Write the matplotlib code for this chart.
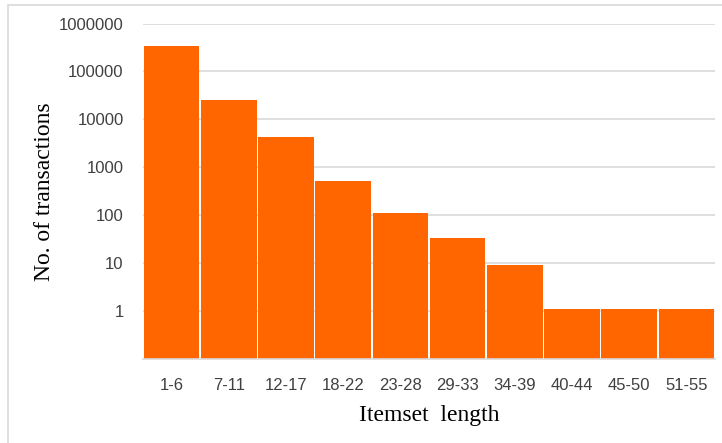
import numpy as np
import matplotlib
matplotlib.use("Agg")
import matplotlib.pyplot as plt
from matplotlib.patches import Rectangle

# itemset length groups and transaction counts
groups = ["1-6", "7-11", "12-17", "18-22", "23-28", "29-33",
          "34-39", "40-44", "45-50", "51-55"]
counts = [340000, 25000, 4300, 520, 110, 33, 9, 1, 1, 1]
yticks = [1, 10, 100, 1000, 10000, 100000, 1000000]

fig = plt.figure(figsize=(7.22, 4.43), dpi=100)
ax = fig.add_axes([143/722, 1 - 359/443, (715 - 143)/722, (359 - 23.5)/443])

x = np.arange(len(groups))
ax.bar(x, counts, width=0.97, bottom=0.1, color="#FF6600", zorder=2)

ax.set_yscale("log")
ax.set_ylim(0.1, 1e6)
ax.set_xlim(-0.5, len(groups) - 0.5)
ax.set_yticks(yticks)
ax.set_yticklabels([str(v) for v in yticks])
ax.yaxis.set_minor_locator(matplotlib.ticker.NullLocator())
ax.set_xticks(x)
ax.set_xticklabels(groups)

ax.grid(axis="y", color="#d9d9d9", linewidth=1.2, zorder=0)
for s in ["top", "right", "left"]:
    ax.spines[s].set_visible(False)
ax.spines["bottom"].set_color("#d9d9d9")
ax.spines["bottom"].set_linewidth(1.2)
ax.tick_params(axis="both", length=0, labelsize=12, labelcolor="#404040",
               labelfontfamily="Liberation Sans")
ax.tick_params(axis="x", pad=14)
ax.tick_params(axis="y", pad=14)

ax.set_ylabel("No. of transactions", fontfamily="Liberation Serif", fontsize=17,
              labelpad=3)
ax.set_xlabel("Itemset  length", fontfamily="Liberation Serif", fontsize=17,
              labelpad=8)

# light frame around the chart area
fig.patches.append(Rectangle((8/722, -0.1), 1.0, 1.1 - 5/443,
                             transform=fig.transFigure, fill=False,
                             edgecolor="#d9d9d9", linewidth=1.2))

fig.savefig("out.png", dpi=100)
